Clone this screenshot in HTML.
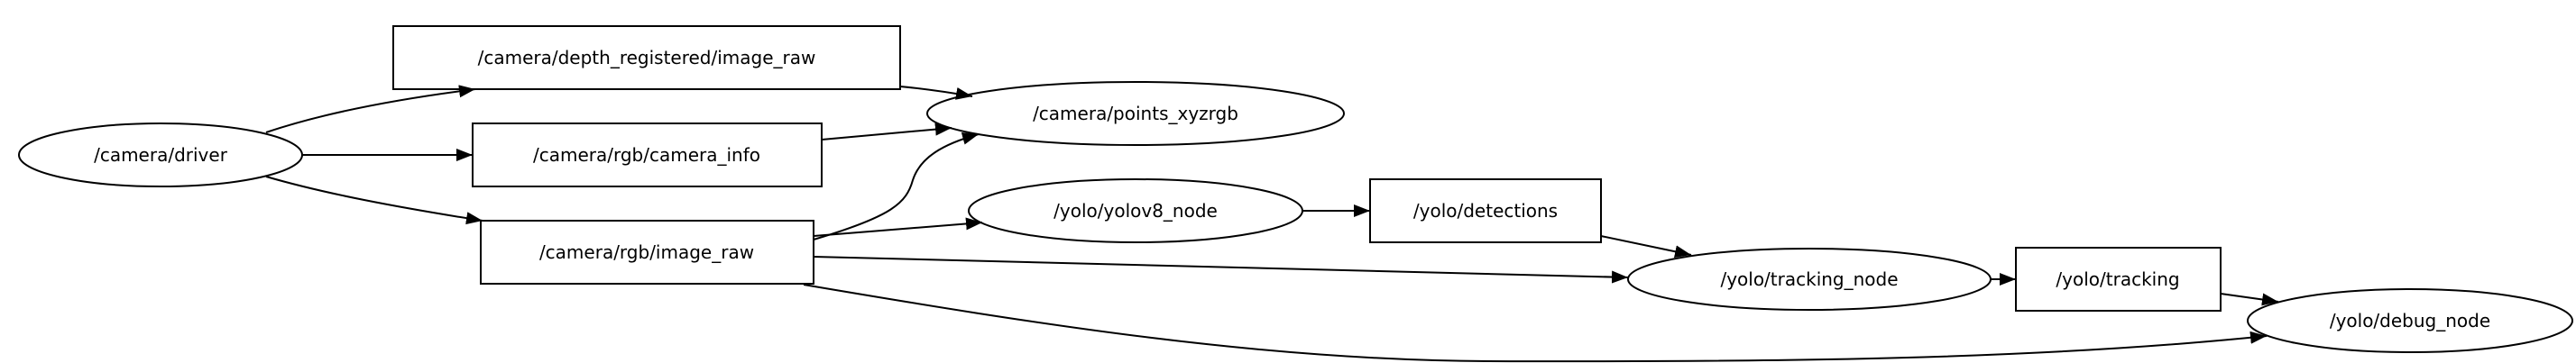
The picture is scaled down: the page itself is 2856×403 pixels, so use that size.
<!DOCTYPE html>
<html><head><meta charset="utf-8"><style>
html,body{margin:0;padding:0;background:#fff;}
svg{display:block;}
text{font-family:"DejaVu Sans","Liberation Sans",sans-serif;font-size:20px;text-anchor:middle;dominant-baseline:central;fill:#000;}
.s{fill:none;stroke:#000;stroke-width:2;}
</style></head><body>
<svg width="2856" height="403" viewBox="0 0 2856 403" xmlns="http://www.w3.org/2000/svg">
<defs>
<marker id="a" markerUnits="userSpaceOnUse" markerWidth="20" markerHeight="16" refX="18" refY="7" orient="auto">
<polygon points="0,0 18,7 0,14" fill="#000"/>
</marker>
</defs>
<!-- nodes -->
<ellipse class="s" cx="178" cy="172" rx="157" ry="35"/>
<text x="178" y="172">/camera/driver</text>
<rect class="s" x="436" y="29" width="562" height="70"/>
<text x="717" y="64">/camera/depth_registered/image_raw</text>
<rect class="s" x="524" y="137" width="387" height="70"/>
<text x="717" y="172">/camera/rgb/camera_info</text>
<rect class="s" x="533" y="245" width="369" height="70"/>
<text x="717" y="280">/camera/rgb/image_raw</text>
<ellipse class="s" cx="1259" cy="126" rx="231" ry="35"/>
<text x="1259" y="126">/camera/points_xyzrgb</text>
<ellipse class="s" cx="1259" cy="234" rx="185" ry="35"/>
<text x="1259" y="234">/yolo/yolov8_node</text>
<rect class="s" x="1519" y="199" width="256" height="70"/>
<text x="1647" y="234">/yolo/detections</text>
<ellipse class="s" cx="2006" cy="310" rx="201" ry="34"/>
<text x="2006" y="310">/yolo/tracking_node</text>
<rect class="s" x="2235" y="275" width="227" height="70"/>
<text x="2348" y="310">/yolo/tracking</text>
<ellipse class="s" cx="2672" cy="356" rx="180" ry="35"/>
<text x="2672" y="356">/yolo/debug_node</text>
<!-- edges -->
<path class="s" marker-end="url(#a)" d="M295,147 C360,125 440,110 527,99"/>
<path class="s" marker-end="url(#a)" d="M335,172 L524,172"/>
<path class="s" marker-end="url(#a)" d="M295,196 C360,215 440,230 535,245"/>
<path class="s" marker-end="url(#a)" d="M998,96 C1030,99 1055,103 1078,107"/>
<path class="s" marker-end="url(#a)" d="M911,155 L1055,142"/>
<path class="s" marker-end="url(#a)" d="M902,266 C990,240 1005,225 1012,200 C1020,175 1045,160 1085,149"/>
<path class="s" marker-end="url(#a)" d="M902,262 L1089,247"/>
<path class="s" marker-end="url(#a)" d="M902,285 L1805,308"/>
<path class="s" marker-end="url(#a)" d="M891,316 C1150,360 1400,400 1650,401 C1950,402 2250,400 2513,373"/>
<path class="s" marker-end="url(#a)" d="M1444,234 L1519,234"/>
<path class="s" marker-end="url(#a)" d="M1775,262 L1875,283"/>
<path class="s" marker-end="url(#a)" d="M2207,310 L2235,310"/>
<path class="s" marker-end="url(#a)" d="M2462,326 L2526,335"/>
</svg>
</body></html>
